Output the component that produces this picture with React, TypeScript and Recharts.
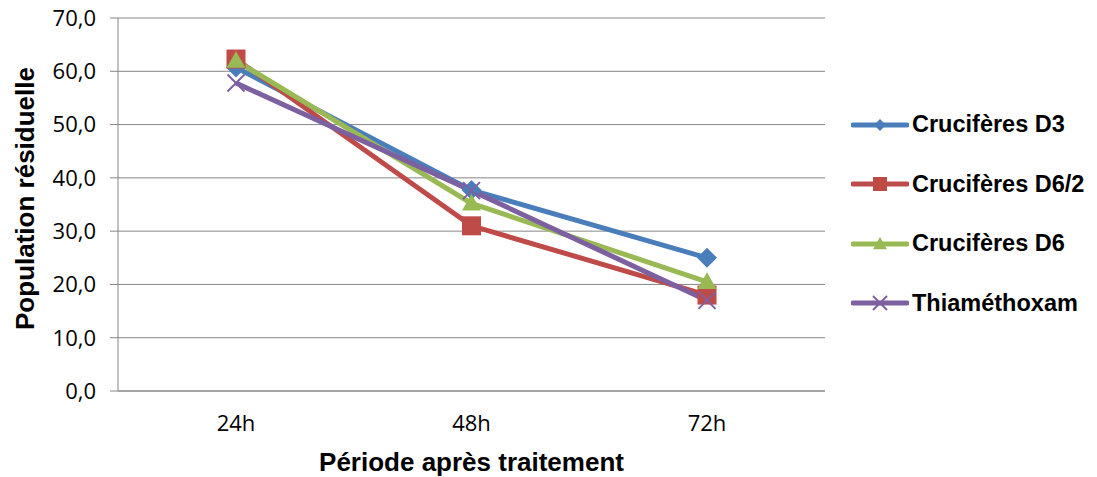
import React from 'react';
import { LineChart, Line, XAxis, YAxis, CartesianGrid } from 'recharts';

const periods = ['24h', '48h', '72h'];
const cruciferesD3 = [60.7, 37.7, 25.0];
const cruciferesD62 = [62.3, 31.0, 18.0];
const cruciferesD6 = [62.0, 35.2, 20.5];
const thiamethoxam = [57.8, 37.6, 17.0];
const yTicks = [0, 10, 20, 30, 40, 50, 60, 70];

type Shape = 'diamond' | 'square' | 'triangle' | 'cross';

const series: { key: string; name: string; color: string; shape: Shape }[] = [
  { key: 'd3', name: 'Crucifères D3', color: '#4A7EBB', shape: 'diamond' },
  { key: 'd62', name: 'Crucifères D6/2', color: '#BE4B48', shape: 'square' },
  { key: 'd6', name: 'Crucifères D6', color: '#98B954', shape: 'triangle' },
  { key: 'thia', name: 'Thiaméthoxam', color: '#7D60A0', shape: 'cross' },
];

const data = periods.map((p, i) => ({
  period: p,
  d3: cruciferesD3[i],
  d62: cruciferesD62[i],
  d6: cruciferesD6[i],
  thia: thiamethoxam[i],
}));

const Marker = ({ cx, cy, shape, color, s }: { cx: number; cy: number; shape: Shape; color: string; s: number }) => {
  const h = s / 2;
  if (shape === 'diamond') {
    return <polygon points={`${cx},${cy - h} ${cx + h},${cy} ${cx},${cy + h} ${cx - h},${cy}`} fill={color} />;
  }
  if (shape === 'square') {
    return <rect x={cx - h} y={cy - h} width={s} height={s} fill={color} />;
  }
  if (shape === 'triangle') {
    return <polygon points={`${cx},${cy - h} ${cx + h},${cy + h * 0.75} ${cx - h},${cy + h * 0.75}`} fill={color} />;
  }
  return (
    <g stroke={color} strokeWidth={2}>
      <line x1={cx - h} y1={cy - h} x2={cx + h} y2={cy + h} />
      <line x1={cx - h} y1={cy + h} x2={cx + h} y2={cy - h} />
    </g>
  );
};

const markerSize: Record<Shape, number> = { diamond: 20, square: 19, triangle: 19, cross: 17 };

const renderDot = (shape: Shape, color: string) => (props: any) => {
  const { cx, cy, index } = props;
  return <Marker key={`${shape}-${index}`} cx={cx} cy={cy} shape={shape} color={color} s={markerSize[shape]} />;
};

const fmt = (v: number) => v.toFixed(1).replace('.', ',');

const YTitle = (props: any) => {
  const { x, y, height } = props.viewBox;
  const cx = x + 34;
  const cy = y + height / 2 - 6;
  return (
    <text
      x={cx}
      y={cy}
      transform={`rotate(-90 ${cx} ${cy})`}
      textAnchor="middle"
      fontFamily="'Liberation Sans', Arial, sans-serif"
      fontWeight="bold"
      fontSize={26}
      fill="#000"
    >
      Population résiduelle
    </text>
  );
};

const XTitle = (props: any) => {
  const { x, width, y } = props.viewBox;
  return (
    <text
      x={x + width / 2}
      y={y + 80}
      textAnchor="middle"
      fontFamily="'Liberation Sans', Arial, sans-serif"
      fontWeight="bold"
      fontSize={26}
      fill="#000"
    >
      Période après traitement
    </text>
  );
};

// legend drawn as plain HTML to the right of the plot
const SideLegend = () => (
  <div style={{ position: 'absolute', left: 851, top: 95, display: 'flex', flexDirection: 'column' }}>
    {series.map((s) => (
      <div key={s.key} style={{ height: 59.5, display: 'flex', alignItems: 'center' }}>
        <svg width={58} height={24} style={{ display: 'block' }}>
          <line x1={2} y1={12} x2={56} y2={12} stroke={s.color} strokeWidth={5} strokeLinecap="round" />
          <Marker cx={29} cy={12} shape={s.shape} color={s.color} s={s.shape === 'diamond' ? 12 : 14} />
        </svg>
        <span
          style={{
            marginLeft: 3,
            fontFamily: "'Liberation Sans', Arial, sans-serif",
            fontWeight: 'bold',
            fontSize: 23.5,
            color: '#000',
            whiteSpace: 'nowrap',
          }}
        >
          {s.name}
        </span>
      </div>
    ))}
  </div>
);

export default function App() {
  return (
    <div style={{ position: 'absolute', left: 0, top: 0, width: 1097, height: 477, background: '#fff' }}>
      <LineChart width={1097} height={477} data={data} margin={{ top: 18, right: 272, bottom: 0, left: 0 }}>
        <CartesianGrid horizontal vertical={false} stroke="#868686" strokeWidth={1} />
        <XAxis
          dataKey="period"
          height={86}
          padding={{ left: 118, right: 118 }}
          axisLine={{ stroke: '#868686' }}
          tickLine={false}
          tickSize={0}
          tickMargin={24}
          tick={{ fontFamily: "'Open Sans', sans-serif", fontSize: 22, fill: '#000' }}
          label={<XTitle />}
        />
        <YAxis
          width={118}
          domain={[0, 70]}
          ticks={yTicks}
          interval={0}
          tickFormatter={fmt}
          axisLine={{ stroke: '#868686' }}
          tickLine={{ stroke: '#868686' }}
          tickSize={8}
          tickMargin={14}
          tick={{ fontFamily: "'Open Sans', sans-serif", fontSize: 22, fill: '#000' }}
          label={<YTitle />}
        />
        {series.map((s) => (
          <Line
            key={s.key}
            dataKey={s.key}
            name={s.name}
            stroke={s.color}
            strokeWidth={5}
            type="linear"
            dot={renderDot(s.shape, s.color)}
            activeDot={false}
            isAnimationActive={false}
          />
        ))}
      </LineChart>
      <SideLegend />
    </div>
  );
}
